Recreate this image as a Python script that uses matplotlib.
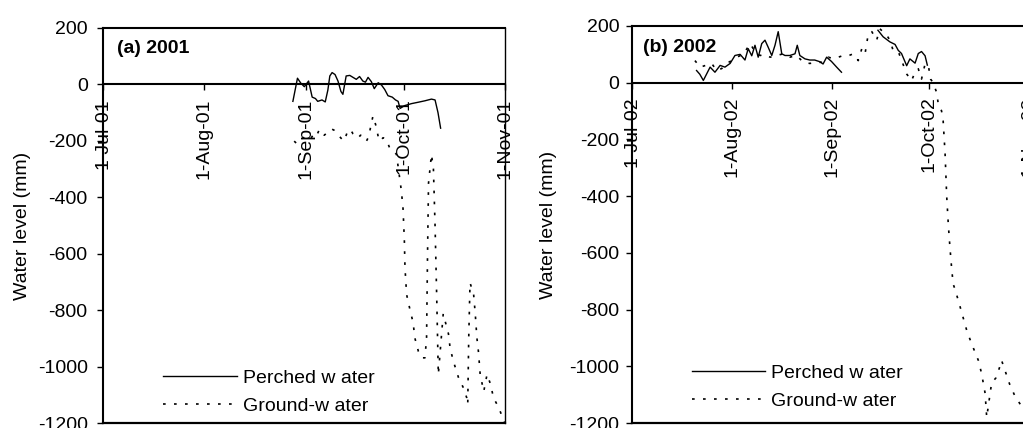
import numpy as np
import matplotlib
matplotlib.use('Agg')
import matplotlib.pyplot as plt
import matplotlib.dates as mdates

plt.rcParams['font.family'] = ['Liberation Sans', 'DejaVu Sans']
plt.rcParams['axes.unicode_minus'] = False

# ---------------- data (x = days since 1 July, y = water level in mm) ----------------
perched01_day = [58.1, 59.5, 60.5, 61.6, 62.9, 64.0, 65.0, 65.7, 67.0, 68.0, 68.8, 69.4,
                 70.1, 71.0, 71.9, 72.8, 73.4, 74.4, 75.5, 76.5, 77.5, 78.5, 79.5, 80.3,
                 81.1, 82.1, 83.0, 84.2, 85.2, 86.2, 87.2, 88.5, 89.5, 90.3, 90.9, 92.3,
                 94.4, 96.5, 98.5, 100.5, 101.6, 102.5, 103.3]
perched01_mm = [-60, 22, 5, -8, 12, -45, -50, -60, -55, -62, -20, 30,
                42, 35, 12, -25, -35, 30, 32, 25, 18, 28, 12, 8,
                25, 10, -15, 6, -2, -18, -40, -45, -55, -60, -85, -75,
                -68, -63, -58, -52, -55, -100, -155]

ground01_day = [58.5, 59.3, 60.3, 61.5, 62.6, 63.6, 64.7, 65.5, 66.2, 67.0, 67.7, 68.5,
                69.2, 70.0, 70.8, 71.6, 72.4, 73.2, 73.8, 74.9, 75.7, 76.5, 77.3, 78.0,
                78.8, 79.6, 80.6, 81.3, 81.9, 82.6, 83.1, 83.6, 84.2, 84.7, 85.7, 86.7,
                87.7, 88.8, 89.8, 91.3, 91.8, 92.2, 92.4, 92.9, 93.9, 94.9, 95.4, 96.5,
                97.5, 98.5, 99.0, 99.3, 99.6, 100.5, 101.1, 101.6, 102.1, 102.6, 104.1,
                105.7, 106.2, 107.2, 108.8, 110.3, 111.3, 111.6, 111.9, 112.3, 113.4,
                113.9, 114.4, 114.9, 115.4, 116.5, 117.5, 118.5, 119.5, 121.1, 122.1, 122.9]
ground01_mm = [-201, -210, -195, -188, -183, -192, -171, -178, -160, -168, -180, -172,
               -168, -158, -163, -175, -185, -195, -200, -164, -160, -175, -182, -190,
               -180, -183, -201, -185, -150, -112, -130, -150, -185, -201, -189, -195,
               -225, -236, -248, -378, -440, -550, -650, -745, -797, -845, -898, -946,
               -969, -969, -900, -600, -350, -248, -300, -500, -750, -1028, -813,
               -884, -934, -981, -1040, -1076, -1111, -1134, -900, -703, -744,
               -813, -898, -950, -1028, -1088, -1028, -1060, -1111, -1146, -1176, -1200]

perched02_day = [20.0, 21.0, 22.1, 24.2, 25.7, 27.3, 28.8, 30.4, 31.9, 33.5, 35.0, 36.0,
                 37.1, 38.1, 39.1, 40.2, 41.2, 42.2, 43.3, 44.3, 45.3, 46.4, 47.4, 48.9,
                 50.5, 51.2, 52.0, 53.6, 55.1, 56.6, 58.2, 59.2, 60.3, 61.8, 63.4, 64.9]
perched02_mm = [43, 30, 8, 55, 37, 61, 55, 68, 96, 100, 80, 120,
                95, 132, 90, 138, 150, 125, 96, 132, 180, 102, 96, 96,
                102, 132, 96, 84, 80, 80, 74, 66, 90, 75, 55, 37]

perched02b_day = [76.2, 77.8, 79.9, 81.5, 82.5, 83.5, 85.1, 86.1, 87.7, 88.7, 89.7, 90.8, 91.5]
perched02b_mm = [185, 162, 144, 135, 114, 103, 60, 84, 69, 103, 110, 95, 62]

ground02_day = [19.5, 21.1, 23.1, 24.7, 26.2, 27.8, 29.3, 30.9, 32.4, 34.5, 36.6, 38.1,
                39.7, 41.2, 42.8, 44.8, 46.9, 48.9, 51.0, 53.1, 55.1, 57.2, 59.3, 60.8,
                62.4, 63.9, 65.5, 67.0, 68.6, 70.1, 71.2, 72.2, 73.2, 74.3, 75.8, 76.8,
                78.9, 79.9, 80.9, 82.5, 85.1, 86.6, 87.7, 88.7, 89.7, 90.8, 91.8, 92.5,
                93.3, 94.4, 94.9, 95.9, 96.4, 97.0, 97.5, 98.0, 98.5, 99.0, 99.5, 100.1,
                101.6, 103.7, 105.2, 107.3, 108.3, 109.4, 109.9, 111.4, 112.8, 114.0,
                114.5, 117.0, 118.6, 120.8, 122.5]
ground02_mm = [78, 55, 62, 68, 43, 50, 68, 78, 90, 100, 138, 110,
               96, 100, 90, 96, 102, 90, 96, 72, 68, 72, 72, 90,
               85, 90, 96, 95, 102, 78, 120, 102, 172, 180, 150, 190,
               168, 150, 114, 110, 31, 7, 37, 49, 13, 66, 62, 13,
               0, -35, -76, -99, -134, -250, -400, -500, -580, -650, -710, -729,
               -788, -873, -920, -979, -1025, -1095, -1180, -1060, -1040, -1000,
               -979, -1063, -1104, -1143, -1175]

yticks = [200, 0, -200, -400, -600, -800, -1000, -1200]
xtick_dates01 = ['2001-07-01', '2001-08-01', '2001-09-01', '2001-10-01', '2001-11-01']
xtick_labels01 = ['1-Jul-01', '1-Aug-01', '1-Sep-01', '1-Oct-01', '1-Nov-01']
xtick_dates02 = ['2002-07-01', '2002-08-01', '2002-09-01', '2002-10-01', '2002-11-01']
xtick_labels02 = ['1-Jul-02', '1-Aug-02', '1-Sep-02', '1-Oct-02', '1-Nov-02']
ylabel = 'Water level (mm)'
legend_labels = ['Perched w ater', 'Ground-w ater']

FS = 14
GW_STYLE = (0, (1.6, 5.0))


def to_num(day_list, start):
    return mdates.date2num(np.datetime64(start)) + np.asarray(day_list, dtype=float)


def setup(ax, tick_dates, tick_labels, title, title_xy, ypad, ylab_x, leg_anchor):
    ax.spines['bottom'].set_position(('data', 0))
    tnum = [mdates.date2num(np.datetime64(d)) for d in tick_dates]
    ax.set_xlim(tnum[0], tnum[-1])
    ax.set_ylim(-1200, 200)
    ax.set_yticks(yticks)
    ax.set_yticklabels([str(v) for v in yticks])
    ax.set_xticks(tnum)
    ax.set_xticklabels(tick_labels)
    for s in ['left', 'top', 'bottom']:
        ax.spines[s].set_linewidth(1.5)
    ax.spines['right'].set_linewidth(1.0)
    ax.axhline(-1200, color='k', lw=1.6, clip_on=False, zorder=5)
    ax.tick_params(axis='x', direction='out', length=4, width=1.0, pad=6,
                   labelsize=FS, labelrotation=90)
    ax.tick_params(axis='y', direction='out', length=4, width=1.0, pad=ypad, labelsize=FS)
    ax.set_ylabel(ylabel, fontsize=FS)
    ax.yaxis.set_label_coords(ylab_x, 0.5)
    ax.text(title_xy[0], title_xy[1], title, transform=ax.transAxes, fontsize=FS,
            fontweight='bold', ha='left', va='center')
    ax.legend(loc='lower left', bbox_to_anchor=leg_anchor, frameon=False, fontsize=FS,
              handlelength=3.8, handletextpad=0.3, labelspacing=0.55,
              borderaxespad=0, borderpad=0)


fig = plt.figure(figsize=(10.23, 4.28), dpi=100)
ax1 = fig.add_axes([103 / 1023, 5 / 428, 402 / 1023, 395 / 428])
ax2 = fig.add_axes([632 / 1023, 5 / 428, 397 / 1023, 397 / 428])

ax1.plot(to_num(perched01_day, '2001-07-01'), perched01_mm, color='k', lw=1.0,
         label=legend_labels[0])
ax1.plot(to_num(ground01_day, '2001-07-01'), ground01_mm, color='k', lw=1.2,
         linestyle=GW_STYLE, label=legend_labels[1])
setup(ax1, xtick_dates01, xtick_labels01, '(a) 2001', (0.035, 0.949), 7,
      -0.18, (0.149, 0.02))

ax2.plot(to_num(perched02_day, '2002-07-01'), perched02_mm, color='k', lw=1.0,
         label=legend_labels[0])
ax2.plot(to_num(perched02b_day, '2002-07-01'), perched02b_mm, color='k', lw=1.0)
ax2.plot(to_num(ground02_day, '2002-07-01'), ground02_mm, color='k', lw=1.2,
         linestyle=GW_STYLE, label=legend_labels[1])
setup(ax2, xtick_dates02, xtick_labels02, '(b) 2002', (0.028, 0.947), 5,
      -0.19, (0.15, 0.033))

fig.savefig('out.png', dpi=100)
